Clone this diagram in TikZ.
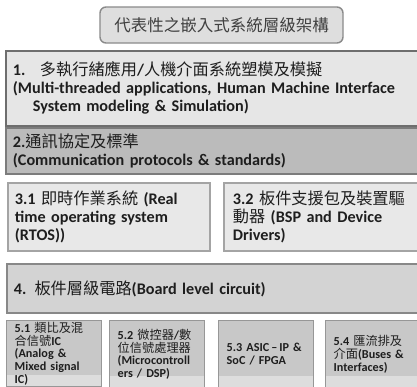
\documentclass[tikz,border=0pt]{standalone}
\usepackage{fontspec}
\setmainfont{Carlito}
\newfontfamily\cjk{Noto Sans CJK TC}
\newcommand\zh[1]{{\mdseries\cjk #1}}
\newcommand\tightlines{\lineskiplimit=-100pt\relax}
\definecolor{txt}{HTML}{1E1E1E}
\definecolor{titlefill}{HTML}{DEDEDE}
\definecolor{titledraw}{HTML}{8A8A8A}
\definecolor{onefill}{HTML}{E6E6E6}
\definecolor{onedraw}{HTML}{6E6E6E}
\definecolor{twofill}{HTML}{BBBBBB}
\definecolor{twodraw}{HTML}{7C7C7C}
\definecolor{threefill}{HTML}{E8E8E8}
\definecolor{threedraw}{HTML}{A4A4A4}
\definecolor{fourfill}{HTML}{D3D3D3}
\definecolor{fourdraw}{HTML}{888888}
\definecolor{fivefill}{HTML}{C8C8C8}
\definecolor{fivedraw}{HTML}{979797}
\definecolor{fivelight}{HTML}{DDDDDD}
\begin{document}
\begin{tikzpicture}[x=1pt,y=-1pt,
  box/.style={draw, rectangle, anchor=north west, align=left, inner xsep=7pt, inner ysep=0pt,
    line width=1.8pt, text=txt, font=\fontsize{16.2}{18}\selectfont\bfseries,
    execute at begin node=\tightlines},
  smallbox/.style={box, line width=1.4pt, fill=fivefill, draw=fivedraw, inner xsep=8pt,
    text width=79pt, minimum height=67pt, font=\fontsize{12.2}{12.8}\selectfont\bfseries,
    path picture={\fill[fivelight] ([yshift=12pt]path picture bounding box.south west) rectangle ([yshift=-10pt]path picture bounding box.south east);}},
]
\useasboundingbox (0,0) rectangle (417,386);
\clip (0,0) rectangle (417,386);
\fill[white] (0,0) rectangle (417,386);

\node[draw=titledraw, fill=titlefill, line width=1.4pt, rounded corners=6pt,
  minimum width=243pt, minimum height=36pt, text=txt!85,
  font=\fontsize{16.5}{18}\selectfont] (title) at (221.5,25) {\zh{代表性之嵌入式系統層級架構}};

\node[box, fill=onefill, draw=onedraw, text width=411pt, minimum height=75pt] (b1) at (5,50)
 {\makebox[27pt][l]{1.}\zh{多執行緒應用}/\zh{人機介面系統塑模及模擬}\\
  (Multi-threaded applications, Human Machine Interface\\
  \hspace*{20pt}System modeling \& Simulation)};

\node[box, fill=twofill, draw=twodraw, text width=411pt, minimum height=46pt] (b2) at (5,127)
 {2.\zh{通訊協定及標準}\\
  (Communication protocols \& standards)};

\node[box, fill=threefill, draw=threedraw, text width=188pt, minimum height=68pt] (b31) at (7,182)
 {3.1 \zh{即時作業系統} (Real\\
  time operating system\\
  (RTOS))};

\node[box, fill=threefill, draw=threedraw, inner xsep=9pt, text width=192pt, minimum height=68pt] (b32) at (223,182)
 {3.2 \zh{板件支援包及裝置驅}\\
  \zh{動器} (BSP and Device\\
  Drivers)};

\node[box, fill=fourfill, draw=fourdraw, text width=411pt, minimum height=49pt] (b4) at (6,263)
 {4. \zh{板件層級電路}(Board level circuit)};

\node[smallbox, minimum height=66pt] (b51) at (6,320)
 {5.1 \zh{類比及混}\\
  \zh{合信號}IC\\
  (Analog \&\\
  Mixed signal\\
  IC)};

\node[smallbox] (b52) at (109,320)
 {5.2 \zh{微控器}/\zh{數}\\
  \zh{位信號處理器}\\
  (Microcontroll\\
  ers / DSP)};

\node[smallbox] (b53) at (218,320)
 {\mbox{5.3 ASIC\,–\,IP \&}\\
  SoC / FPGA};

\node[smallbox] (b54) at (325,320)
 {5.4 \zh{匯流排及}\\
  \zh{介面}(Buses \&\\
  Interfaces)};
\end{tikzpicture}
\end{document}
